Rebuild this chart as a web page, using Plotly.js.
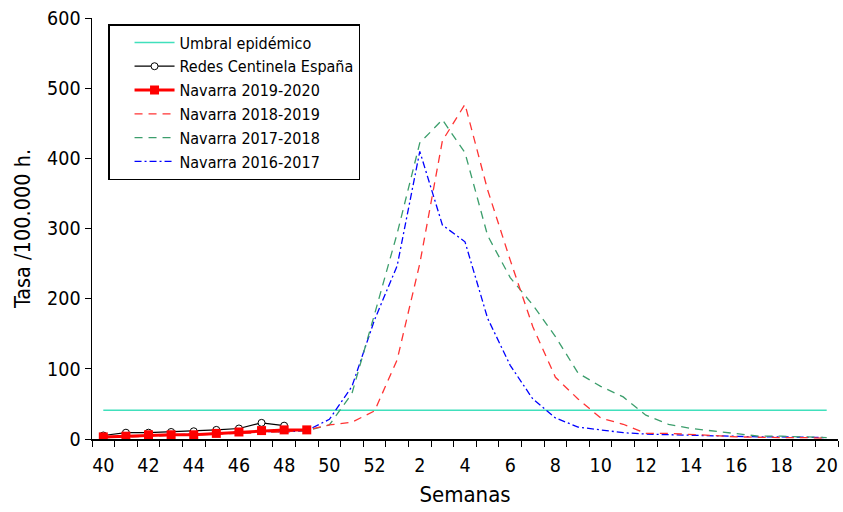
<!DOCTYPE html>
<html>
<head>
<meta charset="utf-8">
<script src="https://cdn.plot.ly/plotly-3.0.1.min.js"></script>
<style>
html,body{margin:0;padding:0;background:#fff;}
#chart{width:843px;height:512px;}
</style>
</head>
<body>
<div id="chart"></div>
<script>
// Semanas epidemiológicas (temporada: semana 40 a semana 20)
var weeks = [40,41,42,43,44,45,46,47,48,49,50,51,52,1,2,3,4,5,6,7,8,9,10,11,12,13,14,15,16,17,18,19,20];

var umbral = 41;

var redesEspana = [5,9,9,10,11,13,15,23,19];

var navarra1920 = [3,4,6,6,6,8,10,12,13,13];

var navarra1819 = [2,3,3,4,5,6,7,8,10,13,20,24,40,113,250,425,477,355,255,160,88,57,30,21,8,8,7,5,3,2,2,2,1];

var navarra1718 = [2,3,4,5,6,7,8,9,10,12,20,65,178,293,422,455,408,290,230,191,146,94,75,60,34,21,15,11,7,4,4,3,2];

var navarra1617 = [3,4,5,6,6,8,10,11,10,12,28,75,170,247,410,305,281,172,105,57,30,17,13,9,7,6,5,4,3,3,3,2,2];

var FONT = '"DejaVu Sans Condensed", "DejaVu Sans", sans-serif';

function idx(arr){ return arr.map(function(_, i){ return i; }); }
var xAll = idx(weeks);

var tickVals = [], tickText = [];
weeks.forEach(function(w, i){ if (i % 2 === 0){ tickVals.push(i); tickText.push(String(w)); } });
var minorVals = [];
for (var k = 0; k <= weeks.length; k++) minorVals.push(k - 0.5);

var traces = [
  {x: xAll, y: weeks.map(function(){ return umbral; }), name: 'Umbral epidémico', mode: 'lines',
   line: {color: '#40E0BC', width: 1.5}, legendrank: 1},
  {x: idx(navarra1617), y: navarra1617, name: 'Navarra 2016-2017', mode: 'lines',
   line: {color: '#0000FF', width: 1.3, dash: '7px,3px,2px,3px'}, legendrank: 6},
  {x: idx(navarra1718), y: navarra1718, name: 'Navarra 2017-2018', mode: 'lines',
   line: {color: '#3C9E6C', width: 1.3, dash: '8px,6px'}, legendrank: 5},
  {x: idx(navarra1819), y: navarra1819, name: 'Navarra 2018-2019', mode: 'lines',
   line: {color: '#FF3333', width: 1.3, dash: '8px,6px'}, legendrank: 4},
  {x: idx(redesEspana), y: redesEspana, name: 'Redes Centinela España', mode: 'lines+markers',
   line: {color: '#000000', width: 1.2},
   marker: {symbol: 'circle', size: 7, color: '#FFFFFF', line: {color: '#000000', width: 1}}, legendrank: 2},
  {x: idx(navarra1920), y: navarra1920, name: 'Navarra 2019-2020', mode: 'lines+markers',
   line: {color: '#FF0000', width: 3},
   marker: {symbol: 'square', size: 9, color: '#FF0000'}, legendrank: 3}
];

var layout = {
  width: 843, height: 512,
  margin: {l: 92, r: 5, t: 18, b: 73},
  paper_bgcolor: '#FFFFFF', plot_bgcolor: '#FFFFFF',
  font: {family: FONT, color: '#000000', size: 19},
  showlegend: true,
  legend: {
    x: 0.0215, y: 0.9857, xanchor: 'left', yanchor: 'top',
    bordercolor: '#000000', borderwidth: 1.5, bgcolor: '#FFFFFF',
    font: {family: FONT, size: 16, color: '#000000'},
    tracegroupgap: 0, itemwidth: 40, indentation: 20
  },
  xaxis: {
    range: [-0.5, weeks.length - 0.5],
    tickmode: 'array', tickvals: tickVals, ticktext: tickText,
    ticks: 'outside', ticklen: 8, tickcolor: 'rgba(0,0,0,0)',
    tickfont: {family: FONT, size: 19.5},
    minor: {tickmode: 'array', tickvals: minorVals, ticks: 'outside', ticklen: 6, tickwidth: 1, tickcolor: '#000000'},
    showline: true, linecolor: '#000000', linewidth: 1.5,
    showgrid: false, zeroline: false,
    title: {text: 'Semanas', font: {family: FONT, size: 22}, standoff: 10}
  },
  yaxis: {
    range: [0, 600], tickmode: 'linear', tick0: 0, dtick: 100,
    ticks: 'outside', ticklen: 6, tickwidth: 1, tickcolor: '#000000',
    tickfont: {family: FONT, size: 19.5},
    showline: true, linecolor: '#000000', linewidth: 1.5,
    showgrid: false, zeroline: false,
    title: {text: 'Tasa /100.000 h.', font: {family: FONT, size: 21.5}, standoff: 10}
  }
};

Plotly.newPlot('chart', traces, layout, {displayModeBar: false, staticPlot: true});
</script>
</body>
</html>
